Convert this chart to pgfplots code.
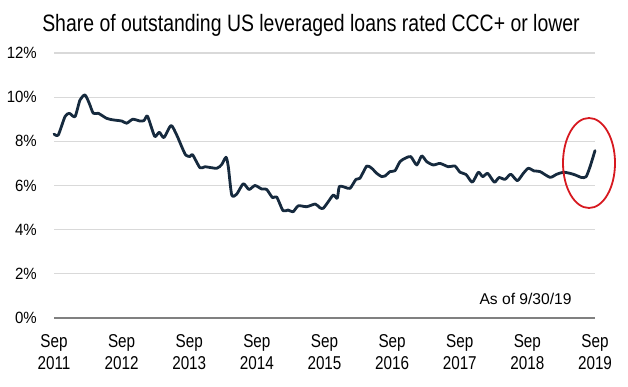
\documentclass[border=0pt]{standalone}
\usepackage{fontspec}
\setmainfont{Liberation Sans}
\newfontfamily\narrowfont{Liberation Sans}[FakeStretch=0.82]
\newfontfamily\ytfont{Liberation Sans}[FakeStretch=0.92]
\usepackage{pgfplots}
\pgfplotsset{compat=1.18}
\definecolor{navy}{RGB}{22,42,62}
\definecolor{gridgray}{RGB}{217,217,217}
\definecolor{axisgray}{RGB}{128,128,128}
\definecolor{circred}{RGB}{215,25,32}
\begin{document}
\begin{tikzpicture}
\path[use as bounding box] (0pt,0pt) rectangle (628pt,386pt);
\begin{axis}[
  at={(54pt,68pt)}, anchor=south west,
  scale only axis, width=541pt, height=265pt,
  xmin=0, xmax=96, ymin=0, ymax=12,
  axis x line=bottom, axis y line=left,
  x axis line style={-, draw=axisgray, line width=2pt},
  y axis line style={-, draw=none},
  xtick={0,12,...,96},
  xticklabels={{Sep\\2011},{Sep\\2012},{Sep\\2013},{Sep\\2014},{Sep\\2015},{Sep\\2016},{Sep\\2017},{Sep\\2018},{Sep\\2019}},
  ytick={0,2,...,12},
  yticklabels={0\%,2\%,4\%,6\%,8\%,10\%,12\%},
  major tick length=0pt,
  ymajorgrids,
  grid style={draw=gridgray, line width=1.2pt},
  xticklabel style={align=center, inner sep=0pt, anchor=north, yshift=-16.8pt,
    font=\narrowfont\fontsize{18.6}{21.7}\selectfont},
  yticklabel style={anchor=east, inner sep=0pt, xshift=-17pt,
    font=\ytfont\fontsize{16.3}{19}\selectfont},
  clip=false,
]
\addplot[navy, line width=2.8pt, line join=round, line cap=round, smooth, tension=0.4] coordinates {
(0.00,8.33) (0.76,8.29) (1.95,9.12) (2.72,9.27) (3.73,9.12) (4.61,9.87)
(5.50,10.10) (6.26,9.72) (6.97,9.27) (7.86,9.27) (9.35,9.04) (10.52,8.97)
(12.01,8.92) (12.90,8.82) (13.97,9.00) (15.26,8.92) (15.97,8.94) (16.56,9.15)
(17.34,8.59) (17.92,8.21) (18.69,8.41) (19.52,8.17) (20.76,8.72) (21.77,8.29)
(22.66,7.76) (23.37,7.38) (24.13,7.31) (24.58,7.40) (25.91,6.80) (26.80,6.85)
(28.87,6.78) (29.76,6.95) (30.52,7.28) (30.93,6.85) (31.54,5.57) (32.42,5.61)
(33.59,6.08) (34.60,5.82) (35.67,6.00) (36.86,5.84) (37.71,5.83) (38.78,5.45)
(39.52,5.48) (40.64,4.86) (41.53,4.89) (42.41,4.81) (43.35,5.08) (44.84,5.04)
(46.37,5.16) (47.20,4.99) (47.79,4.97) (48.68,5.27) (49.57,5.57) (50.27,5.42)
(50.63,5.95) (51.64,5.92) (52.53,5.87) (53.59,6.28) (54.30,6.33) (55.49,6.88)
(56.38,6.78) (57.27,6.55) (58.15,6.40) (58.74,6.43) (59.63,6.63) (60.51,6.67)
(61.40,7.08) (62.29,7.23) (63.30,7.31) (64.37,6.93) (65.25,7.34) (66.14,7.08)
(67.31,6.93) (68.50,7.00) (69.97,6.85) (71.16,6.88) (72.05,6.60) (73.11,6.50)
(74.23,6.15) (75.30,6.60) (76.08,6.40) (76.96,6.55) (78.14,6.15) (78.97,6.36)
(80.04,6.28) (81.05,6.51) (82.22,6.22) (83.28,6.55) (84.17,6.78) (85.18,6.66)
(86.25,6.63) (88.02,6.37) (89.21,6.51) (90.38,6.60) (91.57,6.55) (92.46,6.48)
(93.65,6.36) (94.42,6.40) (95.12,6.85) (96.00,7.58)
};
\end{axis}
\node[anchor=base, inner sep=0pt, font=\narrowfont\fontsize{23.7}{28}\selectfont] at (311pt,354pt) {Share of outstanding US leveraged loans rated CCC+ or lower};
\node[anchor=base east, inner sep=0pt, font=\fontsize{15.6}{18}\selectfont] at (571.7pt,82pt) {As of 9/30/19};
\draw[circred, line width=1.8pt] (589pt,223pt) ellipse [x radius=26pt, y radius=45pt];
\end{tikzpicture}
\end{document}
